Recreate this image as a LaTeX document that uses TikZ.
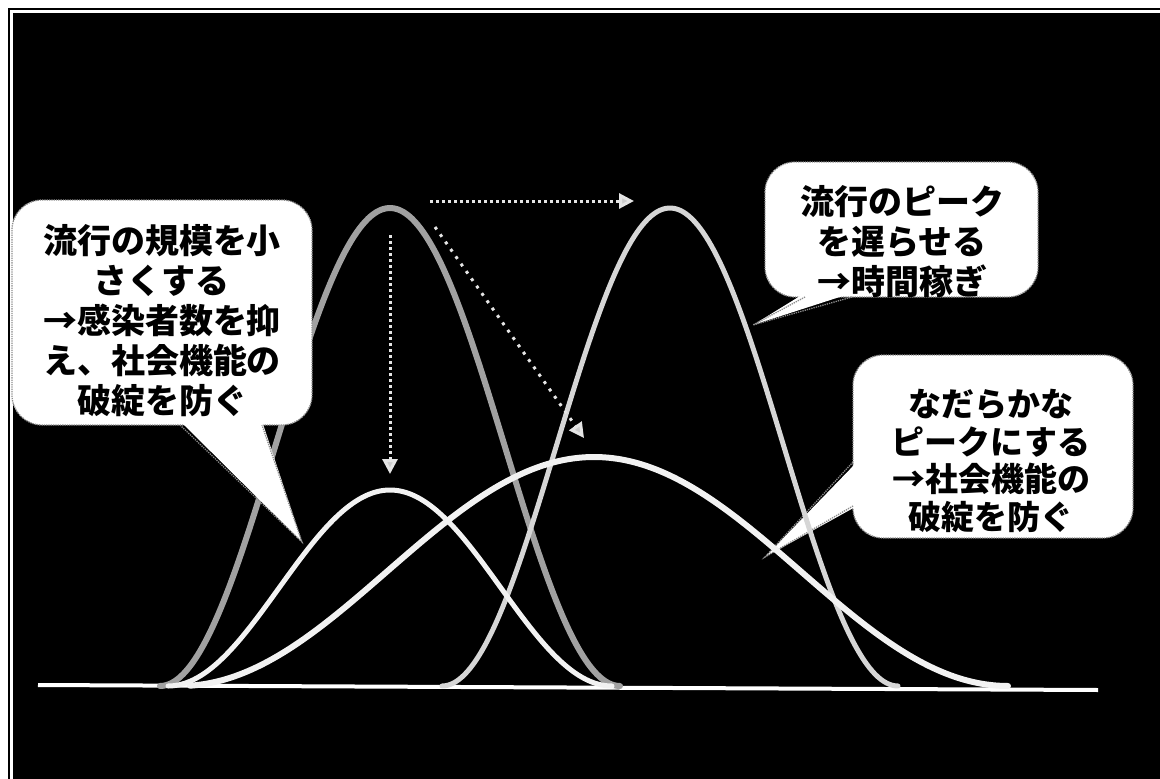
\documentclass[tikz,border=0pt]{standalone}
\usepackage{fontspec}
\newfontfamily\jp{Noto Sans CJK JP}
\usetikzlibrary{arrows.meta}
\definecolor{curveA}{gray}{0.63}
\definecolor{curveB}{gray}{0.84}
\definecolor{curveW}{gray}{0.95}
\definecolor{bordergray}{gray}{0.55}
\definecolor{arrowgray}{gray}{0.9}
\definecolor{headgray}{gray}{0.8}
\begin{document}
\begin{tikzpicture}[x=1pt,y=-1pt,
  curvestyle/.style={line width=5pt, line join=round, line cap=round},
  callbox/.style={fill=white, draw=bordergray, line width=1.3pt, densely dotted, rounded corners=30pt},
  calledge/.style={draw=bordergray, line width=1.3pt, densely dotted},
  calltext/.style={font=\jp\bfseries\fontsize{34}{40}\selectfont, align=center, inner sep=0pt, text=black},
  calltextsmall/.style={font=\jp\bfseries\fontsize{33}{37.7}\selectfont, align=center, inner sep=0pt, text=black},
  dotarrow/.style={line width=3pt, draw=arrowgray, dash pattern=on 3pt off 3pt,
     -{Triangle[length=15pt,width=15pt,fill=headgray]}},
  dotarrowsparse/.style={dotarrow, dash pattern=on 3pt off 6pt}
]
\useasboundingbox (0,0) rectangle (1160,779);
% frame
\fill[white] (0,0) rectangle (1160,779);
\draw[black, line width=1.5pt] (9,779) -- (9,9) -- (1160,9);
\fill[black] (13,13) rectangle (1160,779);

% baseline
\draw[white, line width=4pt] (38,685) -- (1098,690);

% curve A (tall, gray)
\draw[curvestyle, curveA, line width=6pt] plot[domain=160:620, samples=160]
  (\x,{686-478*(1+cos(((\x-390)/230)*180))/2});

% left callout
\coordinate (LT) at (302,542);
\draw[callbox] (12,200) rectangle (312,425);
\fill[white] (180,421) -- (262,421) -- (LT) -- cycle;
\draw[calledge] (180,425) -- (LT) -- (262,425);
\node[calltext] (t1) at (162,321) {流行の規模を小\\さくする\\→感染者数を抑\\え、社会機能の\\破綻を防ぐ};

% top-right callout
\coordinate (RT) at (753,325);
\draw[callbox] (765,162) rectangle (1038,297);
\fill[white] (805,293) -- (852,293) -- (RT) -- cycle;
\draw[calledge] (805,297) -- (RT) -- (852,297);
\node[calltext] (t2) at (902,242) {流行のピーク\\を遅らせる\\→時間稼ぎ};

% right callout
\coordinate (RB) at (765,557);
\draw[callbox] (853,355) rectangle (1133,538);
\fill[white] (857,462) -- (857,506) -- (RB) -- cycle;
\draw[calledge] (853,462) -- (RB) -- (853,506);
\node[calltextsmall] (t3) at (991,461) {なだらかな\\ピークにする\\→社会機能の\\破綻を防ぐ};

% curve B (tall, delayed)
\draw[curvestyle, curveB] plot[domain=442:898, samples=160]
  (\x,{686-478*(1+cos(((\x-670)/228)*180))/2});
% curve C (small)
\draw[curvestyle, curveW] plot[domain=168:612, samples=160]
  (\x,{686-196*(1+cos(((\x-390)/222)*180))/2});
% curve D (flat)
\draw[curvestyle, curveW, line width=6pt] plot[domain=190:1008, samples=200]
  (\x,{686-229*(1+cos(((\x-594)/414)*180))/2});

% dotted arrows
\coordinate (h1) at (430,201);
\coordinate (h2) at (634,201);
\coordinate (v1) at (390,235);
\coordinate (v2) at (390,474);
\coordinate (d1) at (435,227);
\coordinate (d2) at (584,438);
\draw[dotarrow] (h1) -- (h2);
\draw[dotarrow] (v1) -- (v2);
\draw[dotarrowsparse] (d1) -- (d2);
\end{tikzpicture}
\end{document}
